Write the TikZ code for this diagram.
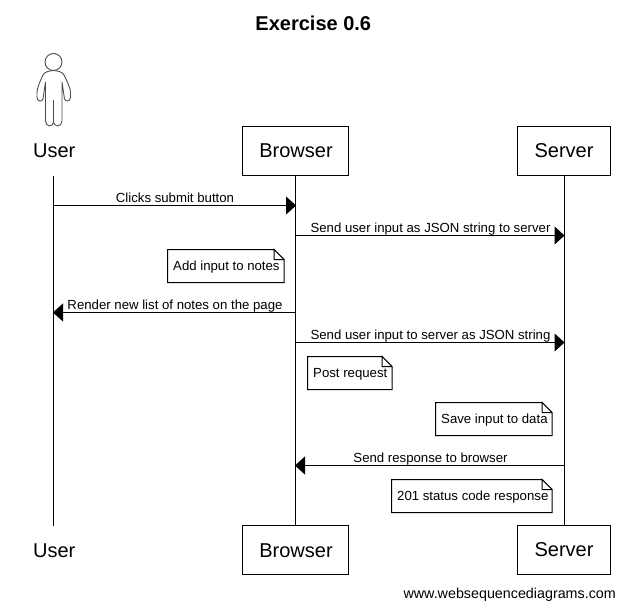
\documentclass[tikz,border=0pt]{standalone}
\usepackage{fontspec}
\setmainfont{Liberation Sans}
\usetikzlibrary{arrows.meta}
\tikzset{
  x=1pt,y=-1pt,
  actorbox/.style={draw,line width=1pt,fill=white,inner sep=0pt,font=\fontsize{20}{24}\selectfont},
  actorlabel/.style={inner sep=0pt,font=\fontsize{20}{24}\selectfont},
  lifeline/.style={line width=1pt},
  msg/.style={line width=1pt,-{Triangle[length=10pt,width=18pt]},shorten >=-0.5pt},
  msglabel/.style={inner sep=0pt,font=\fontsize{13.2}{15}\selectfont},
  notetext/.style={inner sep=0pt,font=\fontsize{13.2}{15}\selectfont},
  notepath/.style={line width=1pt,line join=miter},
  figure/.style={line width=0.9pt,draw=black!70}
}
\newcommand{\notebox}[6]{%
  \draw[notepath] (#2+#4-10,#3) -- (#2,#3) -- (#2,#3+#5) -- (#2+#4,#3+#5) -- (#2+#4,#3+10) -- (#2+#4-10,#3) -- (#2+#4-10,#3+10) -- (#2+#4,#3+10);
  \node[notetext,anchor=base west] (#1) at (#2+5.5,#3+21) {#6};
}
\begin{document}
\begin{tikzpicture}
\useasboundingbox (0,0) rectangle (625,608);
\node[inner sep=0pt,font=\fontsize{20}{24}\bfseries\selectfont,anchor=base] (title) at (313.3,30) {Exercise 0.6};

% lifeline ends
\coordinate (lifeU) at (53.5,175.5);
\coordinate (lifeUb) at (53.5,525.5);
\node[actorbox,minimum width=106.4pt,minimum height=49pt,text height=14.5pt,text depth=0pt] (browserT) at (295.5,150.5) {\hspace{1pt}Browser};
\node[actorbox,minimum width=93pt,minimum height=49pt] (serverT) at (564,150.5) {Server};
\node[actorbox,minimum width=106.4pt,minimum height=49pt,text height=14.5pt,text depth=0pt] (browserB) at (295.5,550) {\hspace{1pt}Browser};
\node[actorbox,minimum width=93pt,minimum height=49pt] (serverB) at (564,550) {Server};
\node[actorlabel,anchor=base] (userT) at (54.3,157) {User};
\node[actorlabel,anchor=base] (userB) at (54.3,557) {User};

\draw[lifeline] (lifeU) -- (lifeUb);
\draw[lifeline] (browserT.south) -- (browserB.north);
\draw[lifeline] (serverT.south) -- (serverB.north);

% stick figure
\draw[figure] (53.5,62) circle (8.5);
\draw[figure,line join=round] (53.5,70.5)
  .. controls (49,71) and (45,71.5) .. (43,75)
  .. controls (41,79) and (37,88) .. (37,92)
  -- (37,97) .. controls (37,102) and (42,102) .. (43,99)
  -- (45.5,82) -- (45.5,121)
  .. controls (45.5,127) and (53.5,128) .. (53.5,121)
  -- (53.5,100);
\draw[figure,line join=round] (53.5,70.5)
  .. controls (58,71) and (62,71.5) .. (64,75)
  .. controls (66,79) and (70.5,88) .. (70.5,92)
  -- (70.5,97) .. controls (70.5,102) and (65.5,102) .. (64.5,99)
  -- (62,82) -- (62,121)
  .. controls (62,127) and (53.5,128) .. (53.5,121);

% messages
\coordinate (m1) at (0,205.5);
\coordinate (m2) at (0,235.5);
\coordinate (m3) at (0,312.5);
\coordinate (m4) at (0,342.5);
\coordinate (m5) at (0,465.5);
\draw[msg] (lifeU |- m1) -- (browserT |- m1);
\draw[msg] (browserT |- m2) -- (serverT |- m2);
\draw[msg] (browserT |- m3) -- (lifeU |- m3);
\draw[msg] (browserT |- m4) -- (serverT |- m4);
\draw[msg] (serverT |- m5) -- (browserT |- m5);

\node[msglabel,anchor=base] (l1) at (175,202) {Clicks submit button};
\node[msglabel,anchor=base] (l2) at (430.5,232) {Send user input as JSON string to server};
\node[msglabel,anchor=base] (l3) at (175,309) {Render new list of notes on the page};
\node[msglabel,anchor=base] (l4) at (430.5,339) {Send user input to server as JSON string};
\node[msglabel,anchor=base] (l5) at (430.5,462) {Send response to browser};

\notebox{n1}{167.5}{249.5}{116.6}{33}{Add input to notes}
\notebox{n2}{307.5}{356.5}{84.6}{33}{Post request}
\notebox{n3}{435.5}{402.5}{116.6}{33}{Save input to data}
\notebox{n4}{391.5}{479.5}{160.6}{33}{201 status code response}

\node[inner sep=0pt,font=\fontsize{14.3}{16}\selectfont,anchor=base east] (wm) at (616,598) {www.websequencediagrams.com};
\end{tikzpicture}
\end{document}
